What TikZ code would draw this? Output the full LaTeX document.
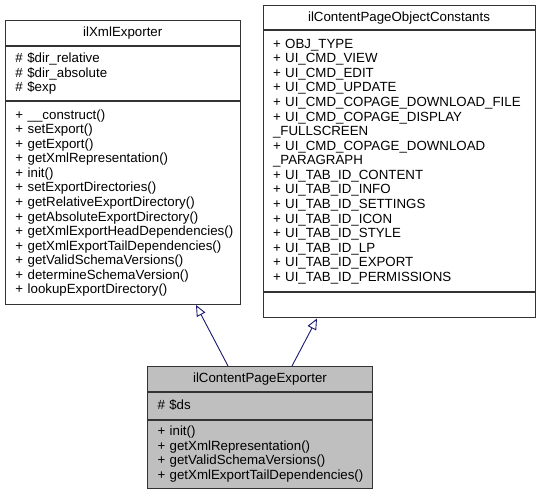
\documentclass[tikz,border=0pt]{standalone}
\usepackage{fontspec}
\setmainfont{Liberation Sans}
\usetikzlibrary{arrows.meta}
\definecolor{edgeblue}{HTML}{191970}
\definecolor{boxgray}{HTML}{BFBFBF}
\newcommand{\umlfont}{\fontsize{13.3}{14.57}\selectfont}

\begin{document}
\begin{tikzpicture}[x=1pt,y=-1pt,font=\umlfont,
  part/.style={draw=black!80,line width=1pt,anchor=north west,inner xsep=10pt,inner ysep=0pt},
  head/.style={part,align=center,minimum height=24.5pt},
  body/.style={part,align=left,execute at begin node={\hyphenpenalty=10000\exhyphenpenalty=10000\hbadness=10000\hfuzz=40pt}},
  isa/.style={edgeblue,line width=0.9pt,-{Triangle[length=11pt,width=9.5pt,fill=white]}}]
\useasboundingbox (0,0) rectangle (539,492);
% ilXmlExporter
\node[head,text width=214.5pt] (xmlhead) at (5,20.5) {ilXmlExporter};
\node[body,text width=214.5pt,minimum height=54pt] (xmlattr) at (xmlhead.south west)
  {\#~\$dir\_relative\\\#~\$dir\_absolute\\\#~\$exp};
\node[body,text width=214.5pt,minimum height=203pt] (xmlmeth) at (xmlattr.south west)
  {+~\_\_construct()\\+~setExport()\\+~getExport()\\+~getXmlRepresentation()\\+~init()\\
   +~setExportDirectories()\\+~getRelativeExportDirectory()\\+~getAbsoluteExportDirectory()\\
   +~getXmlExportHeadDependencies()\\+~getXmlExportTailDependencies()\\
   +~getValidSchemaVersions()\\+~determineSchemaVersion()\\+~lookupExportDirectory()};
% ilContentPageObjectConstants
\node[head,text width=252pt] (consthead) at (262.5,5) {ilContentPageObjectConstants};
\node[body,text width=252pt,minimum height=261pt] (constattr) at (consthead.south west)
  {+~OBJ\_TYPE\\+~UI\_CMD\_VIEW\\+~UI\_CMD\_EDIT\\+~UI\_CMD\_UPDATE\\
   +~UI\_CMD\_COPAGE\_DOWNLOAD\_FILE\\+~UI\_CMD\_COPAGE\_DISPLAY\\\_FULLSCREEN\\
   +~UI\_CMD\_COPAGE\_DOWNLOAD\\\_PARAGRAPH\\+~UI\_TAB\_ID\_CONTENT\\+~UI\_TAB\_ID\_INFO\\
   +~UI\_TAB\_ID\_SETTINGS\\+~UI\_TAB\_ID\_ICON\\+~UI\_TAB\_ID\_STYLE\\+~UI\_TAB\_ID\_LP\\
   +~UI\_TAB\_ID\_EXPORT\\+~UI\_TAB\_ID\_PERMISSIONS};
\node[body,text width=252pt,minimum height=25pt] (constmeth) at (constattr.south west) {};
% ilContentPageExporter
\node[head,fill=boxgray,text width=205pt] (cpehead) at (147,366) {ilContentPageExporter};
\node[body,fill=boxgray,text width=205pt,minimum height=27pt] (cpeattr) at (cpehead.south west) {\#~\$ds};
\node[body,fill=boxgray,text width=205pt,minimum height=68pt] (cpemeth) at (cpeattr.south west)
  {+~init()\\+~getXmlRepresentation()\\+~getValidSchemaVersions()\\+~getXmlExportTailDependencies()};
% inheritance
\draw[isa] ([xshift=81pt]cpehead.north west) -- ([xshift=191pt]xmlmeth.south west);
\draw[isa] ([xshift=145pt]cpehead.north west) -- ([xshift=54.5pt]constmeth.south west);
\end{tikzpicture}
\end{document}
